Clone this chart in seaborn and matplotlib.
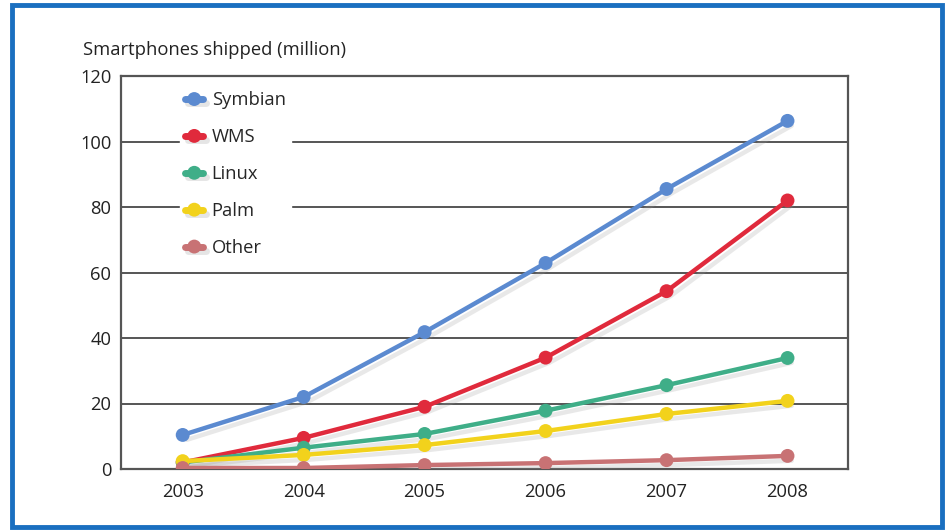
import matplotlib
matplotlib.use("Agg")
import matplotlib.pyplot as plt
import matplotlib.patheffects as pe
from matplotlib.patches import Rectangle
import seaborn as sns
import pandas as pd

years = [2003, 2004, 2005, 2006, 2007, 2008]
symbian = [10.4, 22.0, 41.8, 62.9, 85.5, 106.3]
wms = [2.0, 9.5, 19.0, 34.0, 54.3, 82.0]
linux = [2.0, 6.5, 10.7, 17.8, 25.6, 33.9]
palm = [2.4, 4.3, 7.3, 11.6, 16.8, 20.8]
other = [0.3, 0.3, 1.2, 1.8, 2.7, 4.0]
series_names = ["Symbian", "WMS", "Linux", "Palm", "Other"]
colors = ["#5b8ad0", "#e02a3c", "#3fae88", "#f2d21c", "#c87274"]
yticks = [0, 20, 40, 60, 80, 100, 120]
ylabel_text = "Smartphones shipped (million)"

rows = []
for name, vals in zip(series_names, [symbian, wms, linux, palm, other]):
    for yr, v in zip(years, vals):
        rows.append({"Year": yr, "Value": v, "Series": name})
df = pd.DataFrame(rows)

sns.set_style("white")
plt.rcParams["font.family"] = ["Open Sans", "DejaVu Sans"]
FS = 13.2

fig = plt.figure(figsize=(9.49, 5.30), dpi=100)
ax = fig.add_axes([121 / 949, 61 / 530, 727 / 949, 393 / 530])

sns.lineplot(data=df, x="Year", y="Value", hue="Series", hue_order=series_names,
             palette=colors, marker="o", markersize=10, markeredgewidth=0,
             linewidth=3.2, ax=ax, legend=True)

for line in ax.get_lines():
    line.set_path_effects([pe.SimpleLineShadow(offset=(3, -3.5), shadow_color="#999999", alpha=0.22),
                           pe.Normal()])
    line.set_zorder(3)

ax.set_xlim(2002.49, 2008.5)
ax.set_ylim(0, 120)
ax.set_yticks(yticks)
ax.set_xticks(years)
ax.set_xticklabels([str(y) for y in years])
ax.yaxis.grid(True, color="#555555", linewidth=1.4)
ax.xaxis.grid(False)
ax.set_axisbelow(True)
for s in ax.spines.values():
    s.set_visible(True)
    s.set_color("#555555")
    s.set_linewidth(1.6)
ax.tick_params(axis="both", length=0, labelsize=FS, colors="#222222")
ax.tick_params(axis="y", pad=7)
ax.tick_params(axis="x", pad=10)
ax.set_xlabel("")
ax.set_ylabel("")

leg = ax.legend(loc="upper left", bbox_to_anchor=(0.068, 0.998), frameon=True,
                fancybox=False, framealpha=1, edgecolor="white", facecolor="white",
                fontsize=FS, labelspacing=1.03, handlelength=1.0, handletextpad=0.45,
                borderpad=0.3)
for h in leg.legend_handles:
    h.set_linewidth(5)
    h.set_path_effects([pe.SimpleLineShadow(offset=(2, -3), shadow_color="#999999", alpha=0.25),
                        pe.Normal()])
leg.set_zorder(2.5)

fig.text(83 / 949, 1 - 50 / 530, ylabel_text, fontsize=FS, color="#222222",
         ha="left", va="center")

fig.patches.append(Rectangle((12 / 949, 3 / 530), 930 / 949, 522 / 530,
                             transform=fig.transFigure, fill=False,
                             edgecolor="#1a6fc0", linewidth=3.5))

fig.savefig("out.png", dpi=100)
